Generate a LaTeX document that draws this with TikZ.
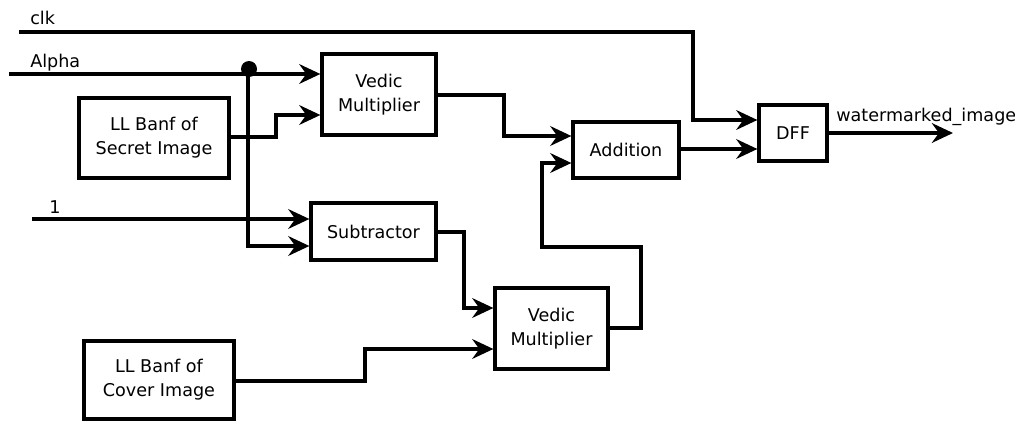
\documentclass[tikz,border=0pt]{standalone}
\usepackage{fontspec}
\setmainfont{DejaVu Sans}
\usetikzlibrary{arrows.meta}
\begin{document}
\begin{tikzpicture}[x=0.025cm,y=-0.025cm,
  box/.style={draw, line width=2.3pt, align=center, inner sep=0pt, font=\fontsize{12.5}{17}\selectfont},
  wire/.style={line width=2.4pt},
  arr/.style={wire, -{Stealth[length=15pt,width=14pt,inset=5pt]}},
  lbl/.style={anchor=base west, inner sep=0pt, font=\fontsize{12.5}{17}\selectfont}]
\useasboundingbox (0,0) rectangle (1015,421);

% blocks
\node[box, minimum width=3.75cm,  minimum height=2cm]     (sec) at (154,138)   {LL Banf of\\Secret Image};
\node[box, minimum width=2.85cm,  minimum height=2.025cm] (vm1) at (379,94.5)  {Vedic\\Multiplier};
\node[box, minimum width=3.125cm, minimum height=1.425cm] (sub) at (373.5,231.5) {Subtractor};
\node[box, minimum width=2.65cm,  minimum height=1.4cm]   (add) at (626,150)   {Addition};
\node[box, minimum width=1.7cm,   minimum height=1.4cm]   (dff) at (793,133)   {DFF};
\node[box, minimum width=2.825cm, minimum height=2.025cm] (vm2) at (551.5,328.5) {Vedic\\Multiplier};
\node[box, minimum width=3.75cm,  minimum height=1.95cm]  (cov) at (159,380)   {LL Banf of\\Cover Image};

% free ends
\coordinate (clkS) at (19,32);
\coordinate (alphaS) at (9,74);
\coordinate (oneS) at (32,219);
\coordinate (outE) at (953,133);
\coordinate (jn) at (248,74);

% labels
\node[lbl] (clkL) at (30,25) {clk};
\node[lbl] (alphaL) at (30,67) {Alpha};
\node[lbl] (oneL) at (49,213) {1};
\node[lbl] (outL) at (836,121) {watermarked\_image};

% connectors
\draw[arr] (clkS) -- (693,32) -- (693,120) -- (dff.west |- 0,120);
\draw[arr] (alphaS) -- (vm1.west |- alphaS);
\draw[arr] (jn) -- (248,246) -- (sub.west |- 0,246);
\fill (249,69) circle[radius=0.2cm];
\draw[arr] (sec.east |- 0,137) -- (276,137) -- (276,115) -- (vm1.west |- 0,115);
\draw[arr] (vm1.east |- 0,95) -- (504,95) -- (504,136) -- (add.west |- 0,136);
\draw[arr] (oneS) -- (sub.west |- oneS);
\draw[arr] (sub.east |- 0,232) -- (464,232) -- (464,308) -- (vm2.west |- 0,308);
\draw[arr] (cov.east |- 0,381) -- (365,381) -- (365,349) -- (vm2.west |- 0,349);
\draw[arr] (vm2.east |- 0,328) -- (641,328) -- (641,247) -- (542,247) -- (542,163) -- (add.west |- 0,163);
\draw[arr] (add.east |- 0,149) -- (dff.west |- 0,149);
\draw[arr] (dff.east) -- (outE);
\end{tikzpicture}
\end{document}
